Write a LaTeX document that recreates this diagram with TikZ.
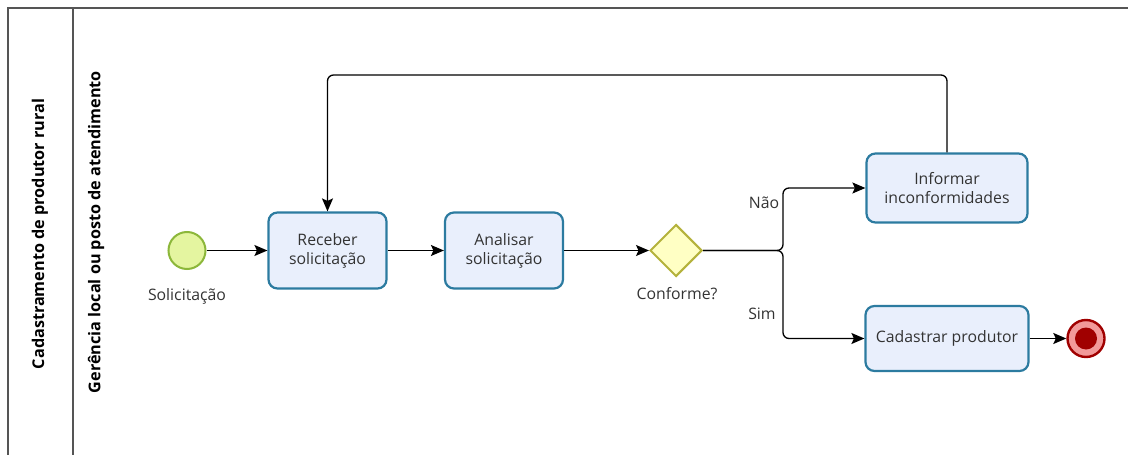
\documentclass[tikz,border=0pt]{standalone}
\usepackage{fontspec}
\setmainfont{Open Sans}
\usetikzlibrary{arrows.meta,shapes.geometric,calc}
\definecolor{taskfill}{HTML}{E9EFFC}
\definecolor{taskdraw}{HTML}{2C7BA0}
\definecolor{startfill}{HTML}{E4F5A0}
\definecolor{startdraw}{HTML}{8CB73A}
\definecolor{gwfill}{HTML}{FFFFC4}
\definecolor{gwdraw}{HTML}{B4B23C}
\definecolor{endring}{HTML}{F29A9A}
\definecolor{enddraw}{HTML}{A00000}
\definecolor{lanecol}{HTML}{555555}
\definecolor{txt}{HTML}{333333}
\tikzset{
  task/.style={draw=taskdraw, fill=taskfill, line width=2.2pt, rounded corners=9pt,
    minimum width=118pt, minimum height=76pt, align=center, text=txt, font=\fontsize{15.8}{19}\selectfont, inner sep=2pt},
  bigtask/.style={task, minimum width=161pt, minimum height=69pt},
  shorttask/.style={task, minimum width=163pt, minimum height=65pt},
  startev/.style={circle, draw=startdraw, fill=startfill, line width=2pt, minimum size=37pt, inner sep=0pt},
  endev/.style={circle, draw=enddraw, fill=endring, line width=2.4pt, minimum size=37pt, inner sep=0pt},
  endin/.style={circle, fill=enddraw, minimum size=22pt, inner sep=0pt},
  gateway/.style={diamond, draw=gwdraw, fill=gwfill, line width=2pt, minimum width=52pt, minimum height=52pt, inner sep=0pt},
  flow/.style={draw=black, line width=1.3pt, -{Stealth[length=13pt,width=11pt,inset=2.5pt]}, rounded corners=6pt},
  lbl/.style={text=txt, font=\fontsize{15.8}{19}\selectfont},
  lanelbl/.style={text=black, font=\bfseries\fontsize{16.2}{19}\selectfont, rotate=90},
  lane/.style={draw=lanecol, line width=1.3pt}
}
\begin{document}
\begin{tikzpicture}[x=1pt,y=-1pt]
\useasboundingbox (0,0) rectangle (1128,455);
% lanes
\draw[lane] (8,455) -- (8,8) -- (1128,8);
\draw[lane] (73,8) -- (73,455);
\node[lanelbl] (pool) at (40,234) {Cadastramento de produtor rural};
\node[lanelbl] (lanename) at (96,232) {Gerência local ou posto de atendimento};
% nodes
\node[startev] (start) at (187,250.5) {};
\node[lbl] (startlbl) at (187,296) {Solicitação};
\node[task] (rec) at (327.5,250.5) {Receber\\solicitação};
\node[task] (ana) at (504,250.5) {Analisar\\solicitação};
\node[gateway] (gw) at (676,250.5) {};
\node[lbl] (gwlbl) at (677,294) {Conforme?};
\node[bigtask] (inf) at (947,188) {Informar\\inconformidades};
\node[shorttask] (cad) at (947,338.5) {Cadastrar produtor};
\node[endev] (end) at (1086,338.5) {};
\node[endin] (endc) at (end.center) {};
\coordinate (split) at (783,250.5);
\coordinate (looptop) at (0,75);
% flows
\draw[flow] (start) -- (rec);
\draw[flow] (rec) -- (ana);
\draw[flow] (ana) -- (gw);
\draw[flow] (gw.east) -- (split) |- (inf.west);
\draw[flow] (gw.east) -- (split) |- (cad.west);
\draw[flow] (inf.north) -- (inf.north |- looptop) -| (rec.north);
\draw[flow] (cad) -- (end);
\node[lbl] (nao) at (764,203) {Não};
\node[lbl] (sim) at (762,314) {Sim};
\end{tikzpicture}
\end{document}
